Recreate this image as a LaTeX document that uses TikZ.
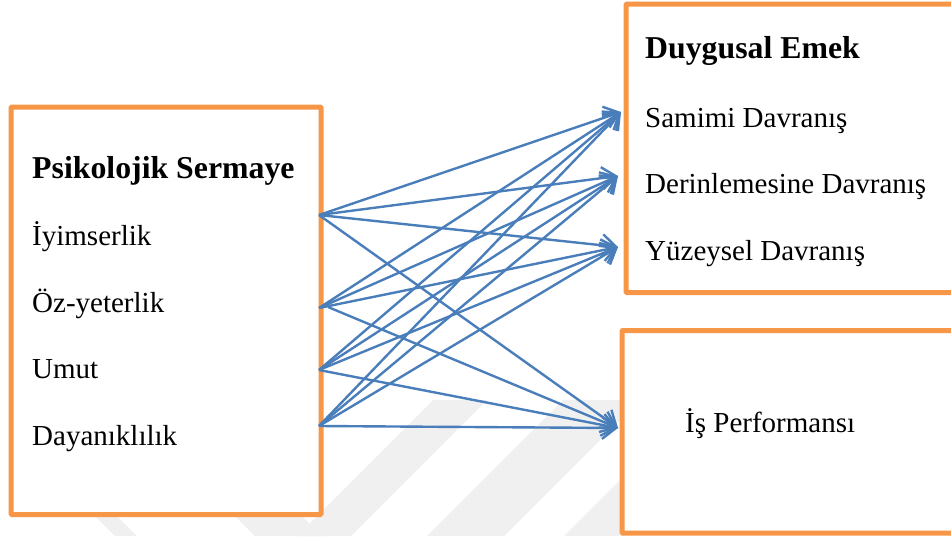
\documentclass[tikz,border=0pt]{standalone}
\usepackage{fontspec}
\setmainfont{Liberation Serif}
\usetikzlibrary{arrows.meta}

\definecolor{boxorange}{HTML}{F79646}
\definecolor{linkblue}{HTML}{4A7EBB}
\definecolor{markgray}{HTML}{F0F0F0}

\tikzset{
  frame/.style={draw=boxorange, line width=5pt, fill=white, rounded corners=1pt},
  head/.style={anchor=base west, inner sep=0pt, font=\fontsize{31.8}{36}\selectfont\bfseries},
  item/.style={anchor=base west, inner sep=0pt, font=\fontsize{29}{34}\selectfont},
  link/.style={draw=linkblue, line width=2.4pt,
    -{Straight Barb[length=14pt, width=22pt, line width=2.4pt]}},
  faint/.style={fill=markgray, draw=none}
}

\begin{document}
\begin{tikzpicture}[x=1pt, y=-1pt]
\useasboundingbox (0,0) rectangle (951,536);
\clip (0,0) rectangle (951,536);

% faint background stripes
\path[faint] (433,400) -- (487,400) -- (351,536) -- (297,536) -- cycle;
\path[faint] (563,400) -- (640,400) -- (504,536) -- (427,536) -- cycle;
\path[faint] (660,440) -- (720,440) -- (624,536) -- (564,536) -- cycle;
\path[faint] (233,514) -- (300,514) -- (322,536) -- (255,536) -- cycle;
\path[faint] (93,514) -- (115,514) -- (137,536) -- (115,536) -- cycle;

% boxes
\node[frame, minimum width=310pt, minimum height=407.5pt, anchor=north west]
  (ps) at (8.5,104.5) {};
\node[frame, minimum width=340pt, minimum height=288.5pt, anchor=north west]
  (de) at (623.5,1.5) {};
\node[frame, minimum width=340pt, minimum height=202.5pt, anchor=north west]
  (ip) at (619.5,328) {};

% left box texts
\node[head] (psT) at (32,178) {Psikolojik Sermaye};
\node[item] (iy) at (32,245) {İyimserlik};
\node[item] (oz) at (32,312) {Öz-yeterlik};
\node[item] (um) at (32,378) {Umut};
\node[item] (da) at (32,445) {Dayanıklılık};

% right box texts
\node[head] (deT) at (645,58) {Duygusal Emek};
\node[item] (sa) at (645,127) {Samimi Davranış};
\node[item] (dr) at (645,193) {Derinlemesine Davranış};
\node[item] (yu) at (645,260) {Yüzeysel Davranış};
\node[item] (isp) at (685,432) {İş Performansı};

% connector ends
\coordinate (s1) at (319,215);
\coordinate (s2) at (319,308);
\coordinate (s2b) at (328,307);
\coordinate (s3) at (319,370);
\coordinate (s4) at (319,426);
\coordinate (t1) at (621,112);
\coordinate (t2) at (618,176);
\coordinate (t3) at (618,247);
\coordinate (t4) at (618,428);

% connectors
\foreach \s in {s1,s2,s3,s4} {
  \draw[link] (\s) -- (t1);
  \draw[link] (\s) -- (t2);
  \draw[link] (\s) -- (t3);
}
\draw[link] (s1) -- (t4);
\draw[link] (s2b) -- (t4);
\draw[link] (s3) -- (t4);
\draw[link] (s4) -- (t4);
\end{tikzpicture}
\end{document}
